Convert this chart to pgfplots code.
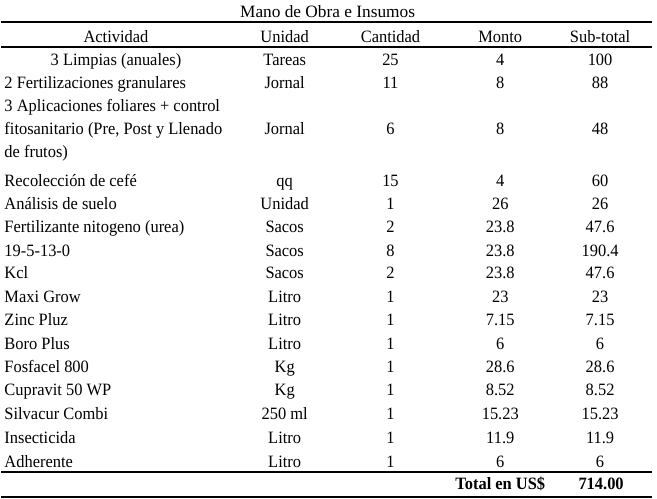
\documentclass[border=0pt]{standalone}
\usepackage{pgfplots}
\pgfplotsset{compat=1.18}
\usepackage{fontspec}
\setmainfont{Liberation Serif}
\newfontfamily\bodyfont[FakeStretch=0.95]{Liberation Serif}

\pgfplotsset{
  cell/.style={draw=none, mark=none, nodes near coords, point meta=explicit symbolic,
    every node near coord/.append style={anchor=base, inner sep=0pt,
      font=\bodyfont\fontsize{13}{15}\selectfont, text=black}},
  lcell/.style={cell, every node near coord/.append style={anchor=base west}},
}

\begin{document}
\begin{tikzpicture}
\begin{axis}[
    x=0.75pt, y=0.75pt,
    xmin=0, xmax=657, ymin=0, ymax=499,
    y dir=reverse,
    hide axis, clip=false,
]
\path (axis cs:0,0) rectangle (axis cs:657,499);

% rules
\draw[line width=1.8pt] (axis cs:0,22) -- (axis cs:652,22);
\draw[line width=1.1pt] (axis cs:0,47) -- (axis cs:652,47);
\draw[line width=1.7pt] (axis cs:0,472.5) -- (axis cs:652,472.5);
\draw[line width=1.7pt] (axis cs:0,497.8) -- (axis cs:652,497.8);

% title
\addplot[cell, every node near coord/.append style={font=\fontsize{13}{15}\selectfont}]
  coordinates {(327,18) [Mano de Obra e Insumos]};

% header
\addplot[cell] coordinates {
  (115,43) [Actividad] (284,43) [Unidad] (390,43) [Cantidad] (500,43) [Monto] (600,43) [Sub-total]
};

% Actividad
\addplot[cell] coordinates {(115,66) [{3 Limpias (anuales)}]};
\addplot[lcell] coordinates {
  (3,89) [2 Fertilizaciones granulares]
  (3,112) [{3 Aplicaciones foliares + control}]
  (3,135) [{fitosanitario (Pre, Post y Llenado}]
  (3,158) [{de frutos)}]
  (3,187) [Recolección de cefé]
  (3,210) [Análisis de suelo]
  (3,233) [{Fertilizante nitogeno (urea)}]
  (3,257) [19-5-13-0]
  (3,279) [Kcl]
  (3,303) [Maxi Grow]
  (3,326) [Zinc Pluz]
  (3,350) [Boro Plus]
  (3,373) [Fosfacel 800]
  (3,396) [Cupravit 50 WP]
  (3,420) [Silvacur Combi]
  (3,444) [Insecticida]
  (3,468) [Adherente]
};

% Unidad
\addplot[cell] coordinates {
  (284,66) [Tareas] (284,89) [Jornal] (284,135) [Jornal] (284,187) [qq]
  (284,210) [Unidad] (284,233) [Sacos] (284,257) [Sacos] (284,279) [Sacos]
  (284,303) [Litro] (284,326) [Litro] (284,350) [Litro] (284,373) [Kg]
  (284,396) [Kg] (284,420) [250 ml] (284,444) [Litro] (284,468) [Litro]
};

% Cantidad
\addplot[cell] coordinates {
  (390,66) [25] (390,89) [11] (390,135) [6] (390,187) [15]
  (390,210) [1] (390,233) [2] (390,257) [8] (390,279) [2]
  (390,303) [1] (390,326) [1] (390,350) [1] (390,373) [1]
  (390,396) [1] (390,420) [1] (390,444) [1] (390,468) [1]
};

% Monto
\addplot[cell] coordinates {
  (500,66) [4] (500,89) [8] (500,135) [8] (500,187) [4]
  (500,210) [26] (500,233) [23.8] (500,257) [23.8] (500,279) [23.8]
  (500,303) [23] (500,326) [7.15] (500,350) [6] (500,373) [28.6]
  (500,396) [8.52] (500,420) [15.23] (500,444) [11.9] (500,468) [6]
};

% Sub-total
\addplot[cell] coordinates {
  (600,66) [100] (600,89) [88] (600,135) [48] (600,187) [60]
  (600,210) [26] (600,233) [47.6] (600,257) [190.4] (600,279) [47.6]
  (600,303) [23] (600,326) [7.15] (600,350) [6] (600,373) [28.6]
  (600,396) [8.52] (600,420) [15.23] (600,444) [11.9] (600,468) [6]
};

% total
\addplot[cell, every node near coord/.append style={font=\bodyfont\fontsize{13}{15}\selectfont\bfseries}]
  coordinates {(500,490) [{Total en US\$}] (601,490) [714.00]};
\end{axis}
\end{tikzpicture}
\end{document}
